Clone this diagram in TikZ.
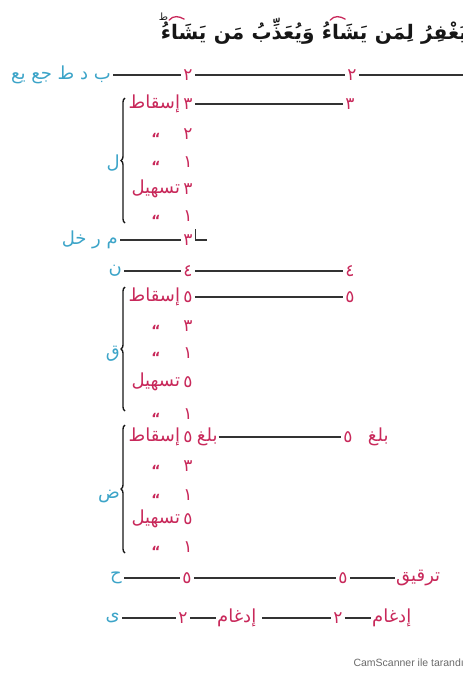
\documentclass[tikz,border=0pt]{standalone}
\usepackage{fontspec}
\usepackage{xcolor}
\usepackage{tikz}
\usetikzlibrary{positioning, calc, decorations.pathreplacing}
\TeXXeTstate=1
\newfontfamily\arabicfont[Script=Arabic]{DejaVu Sans}
\newfontfamily\scanfont{Liberation Sans}
\definecolor{inkOne}{HTML}{161616}
\definecolor{inkTwo}{HTML}{333333}
\definecolor{rumz}{HTML}{3CA4C8}
\definecolor{wajhc}{HTML}{C8285A}
\definecolor{faint}{HTML}{6A6A6A}
\newcommand{\ar}[1]{\beginR#1\endR}
\tikzset{
  rumzlbl/.style={font=\arabicfont\fontsize{18}{20}\selectfont, text=rumz, inner sep=2pt},
  num/.style={font=\arabicfont\fontsize{17}{19}\selectfont, text=wajhc, inner sep=2pt},
  wajh/.style={font=\arabicfont\fontsize{18}{20}\selectfont, text=wajhc, inner sep=1pt},
  ditto/.style={font=\arabicfont\bfseries\fontsize{14}{15}\selectfont, text=wajhc, inner sep=0pt, yshift=-4pt},
  word/.style={font=\arabicfont\bfseries\fontsize{20}{23}\selectfont, text=inkOne, inner sep=0pt, anchor=base east},
  madd/.style={draw=wajhc, line width=1.3pt, line cap=round},
  link/.style={draw=inkTwo, line width=1.3pt},
  grp/.style={decorate, decoration={brace, amplitude=4pt}, draw=inkOne, line width=1.4pt},
}

\begin{document}
\begin{tikzpicture}[x=1pt, y=-1pt]
  \useasboundingbox (0,0) rectangle (463,675);
  % ---- the verse, word by word from the right
  \node[word] (w1) at (467,39) {\ar{يَغْفِرُ}};
  \node[word] (w2) at ([xshift=-7pt]w1.base west) {\ar{لِمَن}};
  \node[word] (w3) at ([xshift=-7pt]w2.base west) {\ar{يَشَاءُ}};
  \node[word] (w4) at ([xshift=-7pt]w3.base west) {\ar{وَيُعَذِّبُ}};
  \node[word] (w5) at ([xshift=-7pt]w4.base west) {\ar{مَن}};
  \node[word] (w6) at ([xshift=-7pt]w5.base west) {\ar{يَشَاءُ}};
  \node[font=\arabicfont\fontsize{10}{11}\selectfont, text=inkOne, inner sep=0pt, anchor=south] (waqf)
    at ([xshift=3pt, yshift=1pt]w6.north west) {\ar{ط}};
  % madd marks over the alif of yasha'
  \foreach \w in {w3, w6} {
    \draw[madd] ($(\w.north west)!0.36!(\w.north east)+(-8,-2)$) .. controls +(4,-5) and +(-5,-3) .. ++(15,-1);
  }
  % ---- first line of readers
  \node[rumzlbl, anchor=east] (r1) at (113,75) {\ar{ب د ط جع يع}};
  \node[num] (r1a) at (188,75) {٢};
  \node[num] (r1b) at (352,75) {٢};
  \coordinate (r1e) at (463,75);
  \draw[link] (r1) -- (r1a) (r1a) -- (r1b) (r1b) -- (r1e);
  % ---- ditto rows: y/digit
  \foreach \y/\d in {134/٢, 162/١, 216/١, 326/٣, 353/١, 414/١, 466/٣, 495/١, 547/١} {
    \node[num] (d\y) at (188,\y) {\d};
    \node[ditto] (q\y) at (156,\y) {“};
  }
  % ---- isqat / tashil rows: name/y/digit/word
  \foreach \n/\y/\d/\w in {s1/104/٣/إسقاط, t1/189/٣/تسهيل, s2/297/٥/إسقاط, t2/382/٥/تسهيل, s3/437/٥/إسقاط, t3/519/٥/تسهيل} {
    \node[num] (\n) at (188,\y) {\d};
    \node[wajh, left=0pt of \n] (\n w) {\ar{\w}};
  }
  \node[num] (s1b) at (350,104) {٣};
  \draw[link] (s1) -- (s1b);
  \node[num] (s2b) at (350,297) {٥};
  \draw[link] (s2) -- (s2b);
  \node[wajh, right=1pt of s3] (s3x) {\ar{بلغ}};
  \node[num] (s3b) at (348,437) {٥};
  \node[wajh, right=12pt of s3b] (s3y) {\ar{بلغ}};
  \draw[link] (s3x) -- (s3b);
  % ---- the three groups
  \draw[grp] (125,223) -- (125,98);
  \node[rumzlbl, anchor=east] (gl) at (122,163) {\ar{ل}};
  \draw[grp] (125,411) -- (125,287);
  \node[rumzlbl, anchor=east] (gq) at (122,354) {\ar{ق}};
  \draw[grp] (125,553) -- (125,425);
  \node[rumzlbl, anchor=east] (gd) at (122,497) {\ar{ض}};
  % ---- single readers
  \node[rumzlbl, anchor=east] (r7) at (120,240) {\ar{م ر خل}};
  \node[num] (r7a) at (188,240) {٣};
  \draw[link] (r7) -- (r7a);
  \draw[link] ($(r7a.east)+(1,-11)$) -- ++(0,11) -- ++(11,0);
  \node[rumzlbl, anchor=east] (r8) at (124,271) {\ar{ن}};
  \node[num] (r8a) at (188,271) {٤};
  \node[num] (r8b) at (350,271) {٤};
  \draw[link] (r8) -- (r8a) (r8a) -- (r8b);
  \node[rumzlbl, anchor=east] (r19) at (124,578) {\ar{ح}};
  \node[num] (r19a) at (187,578) {٥};
  \node[num] (r19b) at (343,578) {٥};
  \node[wajh, anchor=west] (r19t) at (395,578) {\ar{ترقيق}};
  \draw[link] (r19) -- (r19a) (r19a) -- (r19b) (r19b) -- (r19t);
  \node[rumzlbl, anchor=east] (r20) at (122,618) {\ar{ی}};
  \node[num] (r20a) at (183,618) {٢};
  \node[wajh, anchor=west] (r20i) at (216,618) {\ar{إدغام}};
  \node[num] (r20b) at (338,618) {٢};
  \node[wajh, anchor=west] (r20j) at (371,618) {\ar{إدغام}};
  \draw[link] (r20) -- (r20a) (r20a) -- (r20i) ([xshift=5pt]r20i.east) -- (r20b) (r20b) -- (r20j);
  \node[font=\scanfont\fontsize{10.5}{12}\selectfont, text=faint, anchor=west] (scan) at (350,663) {CamScanner ile tarandı};
\end{tikzpicture}
\end{document}
